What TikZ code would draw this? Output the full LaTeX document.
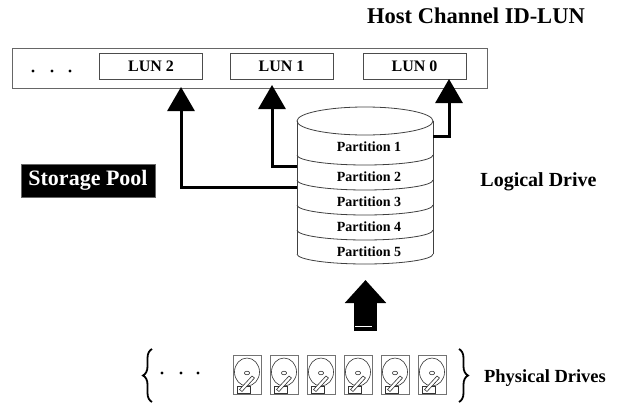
\documentclass[tikz,border=0pt]{standalone}
\usepackage{fontspec}
\setmainfont{Liberation Serif}
\usetikzlibrary{arrows.meta,decorations.pathreplacing}

\tikzset{
  frame/.style={draw=black!60, line width=0.8pt, inner sep=0pt},
  lunbox/.style={draw=black!70, line width=0.8pt, inner sep=0pt,
    minimum width=103pt, minimum height=26pt,
    font=\bfseries\fontsize{16}{16}\selectfont},
  cyl/.style={draw=black!75, line width=0.8pt},
  plabel/.style={font=\bfseries\fontsize{14}{14}\selectfont, inner sep=0pt},
  biglabel/.style={font=\bfseries\fontsize{20}{20}\selectfont, inner sep=0pt},
  conn/.style={line width=3pt, line join=miter,
    -{Triangle[length=24pt,width=27pt]}},
  fatarrow/.style={line width=23pt, -{Triangle[length=23pt,width=40pt]}},
  drivebox/.style={draw=black!55, line width=0.8pt},
  driveline/.style={draw=black!80, line width=0.6pt},
  curly/.style={decorate, decoration={brace, amplitude=9pt}, line width=1.8pt},
  dot/.style={fill=black},
  pics/hdd/.style={code={
    \draw[drivebox] (0,0) rectangle (28,39);
    \draw[driveline] (14,17) ellipse [x radius=12.5, y radius=14];
    \draw[driveline] (14,18) ellipse [x radius=2.6, y radius=1.8];
    \draw[driveline] (4,31) rectangle (17,38);
    \draw[driveline, fill=white] (19,21) -- (21.5,23) -- (9,36.5) -- (6.5,34.5) -- cycle;
  }}
}

\begin{document}
\begin{tikzpicture}[x=1pt, y=-1pt]
\useasboundingbox (0,0) rectangle (621,404);

% title
\node[anchor=base, font=\bfseries\fontsize{22.5}{22.5}\selectfont] (title) at (476,24) {Host Channel ID-LUN};

% host channel strip with its LUN slots
\node[frame, minimum width=475pt, minimum height=40pt, anchor=north west] (host) at (12,48) {};
\fill[dot] (33,71) circle[radius=1.7pt];
\fill[dot] (52,71) circle[radius=1.7pt];
\fill[dot] (70,71) circle[radius=1.7pt];
\node[lunbox] (lun2) at (151,66) {LUN 2};
\node[lunbox] (lun1) at (281.5,66) {LUN 1};
\node[lunbox] (lun0) at (414.5,66) {LUN 0};

% logical drive cylinder, split into partitions
\fill[white] (297,121) -- (297,254) arc[start angle=180, end angle=0, x radius=68, y radius=10] -- (433,121) -- cycle;
\draw[cyl] (365,121) ellipse [x radius=68, y radius=14];
\draw[cyl] (297,121) -- (297,254);
\draw[cyl] (433,121) -- (433,254);
\foreach \y in {155,180,205,230,254}
  \draw[cyl] (297,\y) arc[start angle=180, end angle=0, x radius=68, y radius=10];

\node[plabel] (p1) at (369,147) {Partition 1};
\node[plabel] (p2) at (369,177) {Partition 2};
\node[plabel] (p3) at (369,202) {Partition 3};
\node[plabel] (p4) at (369,227) {Partition 4};
\node[plabel] (p5) at (369,252) {Partition 5};

% attachment points on the cylinder and arrow tips under the LUN slots
\coordinate (c2) at (297,187);
\coordinate (c1) at (297,166);
\coordinate (c0) at (433,136);
\coordinate (t2) at (181,87);
\coordinate (t1) at (272,85);
\coordinate (t0) at (449,79);

\draw[conn] (c2) -| (t2);
\draw[conn] (c1) -| (t1);
\draw[conn] (c0) -| (t0);

% labels
\node[fill=black, draw=black!60, line width=0.6pt, text=white, minimum width=134pt, minimum height=33pt,
  inner sep=0pt, font=\bfseries\fontsize{22}{22}\selectfont] (pool) at (88,180.5) {Storage Pool};
\node[biglabel] (ld) at (538.5,182) {Logical Drive};

% physical drives feeding the logical drive
\coordinate (fatbase) at (365.5,331);
\coordinate (fattip) at (365.5,280);
\draw[fatarrow] (fatbase) -- (fattip);
\draw[white, line width=0.9pt] (355,326) -- (372,326);

\draw[curly] (152,402) -- (152,349);
\fill[dot] (162,373) circle[radius=1.7pt];
\fill[dot] (181,373) circle[radius=1.7pt];
\fill[dot] (198,373) circle[radius=1.7pt];
\foreach \x in {233,270,307,344,381,418}
  \pic at (\x,355) {hdd};
\draw[curly] (459,349) -- (459,402);
\node[font=\bfseries\fontsize{18.5}{18.5}\selectfont, inner sep=0pt] (pd) at (545,378) {Physical Drives};
\end{tikzpicture}
\end{document}
